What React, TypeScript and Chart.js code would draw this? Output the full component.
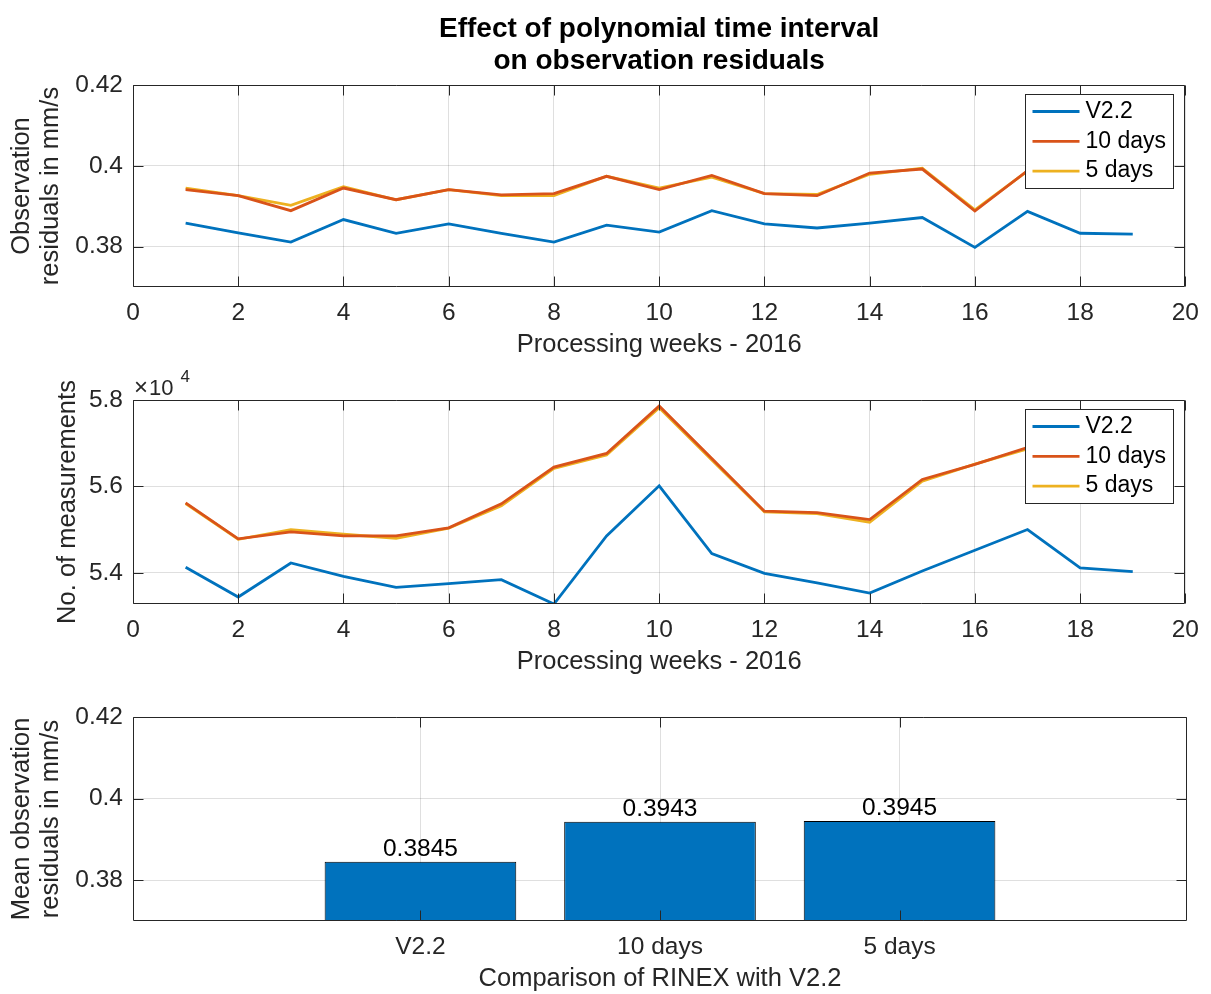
import React, { useEffect, useRef } from 'react';
import { Chart, registerables } from 'chart.js';

Chart.register(...registerables);

// ---------------- data ----------------
const seriesNames = ['V2.2', '10 days', '5 days'];
const weeks = [1, 2, 3, 4, 5, 6, 7, 8, 9, 10, 11, 12, 13, 14, 15, 16, 17, 18, 19];

const residualV22 = [0.3858, 0.3834, 0.3811, 0.3867, 0.3833, 0.3856, 0.3833, 0.3811, 0.3853, 0.3836, 0.3889, 0.3856, 0.3846, 0.3858, 0.3872, 0.3798, 0.3887, 0.3833, 0.3831];
const residual10Days = [0.3941, 0.3926, 0.3889, 0.3945, 0.3916, 0.3941, 0.3928, 0.3931, 0.3974, 0.3941, 0.3976, 0.3931, 0.3926, 0.3982, 0.3992, 0.3888, 0.3988, 0.3966, 0.3963];
const residual5Days = [0.3945, 0.3926, 0.3902, 0.3948, 0.3916, 0.3941, 0.3926, 0.3926, 0.3974, 0.3945, 0.3972, 0.3931, 0.3929, 0.3979, 0.3994, 0.3891, 0.3987, 0.3964, 0.3960];

const countV22 = [54131, 53445, 54232, 53923, 53668, 53753, 53846, 53283, 54857, 56015, 54448, 53993, 53769, 53537, 54047, 54525, 55004, 54116, 54031];
const count10Days = [55622, 54788, 54950, 54857, 54857, 55043, 55599, 56448, 56764, 57861, 56648, 55429, 55398, 55236, 56162, 56510, 56903, 56320, 56250];
const count5Days = [55606, 54780, 55004, 54896, 54803, 55035, 55552, 56417, 56726, 57822, 56610, 55413, 55375, 55174, 56124, 56517, 56872, 56280, 56200];

const barCategories = ['V2.2', '10 days', '5 days'];
const meanResidual = [0.3845, 0.3943, 0.3945];

const weekTicks = [0, 2, 4, 6, 8, 10, 12, 14, 16, 18, 20];
const residualTicks = [0.38, 0.4, 0.42];
const countTicks = [54000, 56000, 58000];

// ---------------- style ----------------
const FONT = '"Liberation Sans", Arial, Helvetica, sans-serif';
const AXIS_COLOR = '#262626';
const GRID_COLOR = 'rgba(38,38,38,0.15)';
const SERIES_COLORS = ['#0072BD', '#D95319', '#EDB120'];
const TICK_SIZE = 24.5;
const LABEL_SIZE = 25.5;
const LEFT = 133;
const RIGHT_PAD = 24;
const X_AXIS_H = 73;
const LINE_W = 2.8;

Chart.defaults.font.family = FONT;

const framePlugin = {
  id: 'frame',
  afterDraw(chart: any) {
    const { ctx, chartArea: a, scales } = chart;
    const L = Math.round(a.left) + 0.5;
    const R = Math.round(a.right) - 0.5;
    const T = Math.round(a.top) + 0.5;
    const B = Math.round(a.bottom) - 0.5;
    const tl = 10;
    ctx.save();
    ctx.strokeStyle = AXIS_COLOR;
    ctx.lineWidth = 1;
    ctx.beginPath();
    scales.x.ticks.forEach((t: any) => {
      const px = Math.round(scales.x.getPixelForValue(t.value)) + 0.5;
      ctx.moveTo(px, B);
      ctx.lineTo(px, B - tl);
      ctx.moveTo(px, T);
      ctx.lineTo(px, T + tl);
    });
    scales.y.ticks.forEach((t: any) => {
      const py = Math.round(scales.y.getPixelForValue(t.value)) + 0.5;
      ctx.moveTo(L, py);
      ctx.lineTo(L + tl, py);
      ctx.moveTo(R, py);
      ctx.lineTo(R - tl, py);
    });
    ctx.rect(L, T, R - L, B - T);
    ctx.stroke();
    ctx.restore();
  },
};

const legendPlugin = {
  id: 'boxLegend',
  afterDraw(chart: any) {
    const { ctx, chartArea: a } = chart;
    const w = 148;
    const h = 94;
    const x = Math.round(a.right - 12 - w) + 0.5;
    const y = Math.round(a.top + 9) + 0.5;
    ctx.save();
    ctx.fillStyle = '#ffffff';
    ctx.fillRect(x, y, w, h);
    ctx.strokeStyle = AXIS_COLOR;
    ctx.lineWidth = 1;
    ctx.strokeRect(x, y, w, h);
    ctx.font = `23px ${FONT}`;
    ctx.textBaseline = 'middle';
    ctx.textAlign = 'left';
    chart.data.datasets.forEach((ds: any, i: number) => {
      const ry = y + 17 + i * 29.8;
      ctx.strokeStyle = ds.borderColor;
      ctx.lineWidth = LINE_W;
      ctx.beginPath();
      ctx.moveTo(x + 7, ry);
      ctx.lineTo(x + 54, ry);
      ctx.stroke();
      ctx.fillStyle = '#000000';
      ctx.fillText(ds.label, x + 60, ry);
    });
    ctx.restore();
  },
};

const titlePlugin = {
  id: 'figTitle',
  afterDraw(chart: any) {
    const { ctx, chartArea: a } = chart;
    const cx = (a.left + a.right) / 2;
    ctx.save();
    ctx.fillStyle = '#000000';
    ctx.font = `bold 28px ${FONT}`;
    ctx.textAlign = 'center';
    ctx.textBaseline = 'alphabetic';
    ctx.fillText('Effect of polynomial time interval', cx, 36.7);
    ctx.fillText('on observation residuals', cx, 69.3);
    ctx.restore();
  },
};

const exponentPlugin = {
  id: 'exponent',
  afterDraw(chart: any) {
    const { ctx, chartArea: a } = chart;
    ctx.save();
    ctx.fillStyle = AXIS_COLOR;
    ctx.textAlign = 'left';
    ctx.textBaseline = 'alphabetic';
    const base = a.top - 5;
    ctx.font = `24px ${FONT}`;
    ctx.fillText('\u00d7', a.left + 1, base);
    const wx = ctx.measureText('\u00d7').width;
    ctx.font = `22px ${FONT}`;
    ctx.fillText('10', a.left + 2 + wx, base);
    const w10 = ctx.measureText('10').width;
    ctx.font = `17px ${FONT}`;
    ctx.fillText('4', a.left + 2 + wx + w10 + 7, base - 13.5);
    ctx.restore();
  },
};

const barLabelPlugin = {
  id: 'barLabels',
  afterDatasetsDraw(chart: any) {
    const { ctx } = chart;
    const meta = chart.getDatasetMeta(0);
    ctx.save();
    ctx.fillStyle = '#000000';
    ctx.font = `${TICK_SIZE}px ${FONT}`;
    ctx.textAlign = 'center';
    ctx.textBaseline = 'alphabetic';
    meta.data.forEach((el: any, i: number) => {
      ctx.fillText(meanResidual[i].toFixed(4), el.x, el.y - 6);
    });
    ctx.restore();
  },
};

function xAxis(title: string, min: number, max: number, tickValues: number[], fmt: (v: number) => string) {
  return {
    type: 'linear',
    min,
    max,
    offset: false,
    afterBuildTicks: (s: any) => {
      s.ticks = tickValues.map((v) => ({ value: v }));
    },
    afterFit: (s: any) => {
      s.height = X_AXIS_H;
    },
    ticks: {
      autoSkip: false,
      maxRotation: 0,
      padding: 12,
      color: AXIS_COLOR,
      font: { size: TICK_SIZE },
      callback: (v: any) => fmt(Number(v)),
    },
    grid: { color: GRID_COLOR, drawTicks: false, offset: false },
    border: { display: false },
    title: {
      display: true,
      text: title,
      color: AXIS_COLOR,
      font: { size: LABEL_SIZE },
      padding: { top: 0, bottom: 0 },
    },
  };
}

function yAxis(title: string | string[], min: number, max: number, tickValues: number[], fmt: (v: number) => string, titlePad: number) {
  return {
    type: 'linear',
    min,
    max,
    afterBuildTicks: (s: any) => {
      s.ticks = tickValues.map((v) => ({ value: v }));
    },
    afterFit: (s: any) => {
      s.width = LEFT;
    },
    ticks: {
      padding: 10,
      color: AXIS_COLOR,
      font: { size: TICK_SIZE },
      callback: (v: any) => fmt(Number(v)),
    },
    grid: { color: GRID_COLOR, drawTicks: false },
    border: { display: false },
    title: {
      display: true,
      text: title,
      color: AXIS_COLOR,
      font: { size: LABEL_SIZE, lineHeight: 1.16 },
      padding: { top: titlePad, bottom: 0 },
    },
  };
}

function lineDatasets(values: number[][]) {
  return seriesNames.map((name, i) => ({
    label: name,
    data: weeks.map((w, j) => ({ x: w, y: values[i][j] })),
    borderColor: SERIES_COLORS[i],
    backgroundColor: SERIES_COLORS[i],
    borderWidth: LINE_W,
    pointRadius: 0,
    tension: 0,
    fill: false,
  }));
}

const basePlugins = { legend: { display: false }, tooltip: { enabled: false }, title: { display: false } };

export default function App() {
  const ref1 = useRef<HTMLCanvasElement>(null);
  const ref2 = useRef<HTMLCanvasElement>(null);
  const ref3 = useRef<HTMLCanvasElement>(null);

  useEffect(() => {
    const fmtWeek = (v: number) => String(v);
    const fmtRes = (v: number) => String(Math.round(v * 1000) / 1000);
    const fmtCount = (v: number) => (v / 1e4).toFixed(1);

    const c1 = new Chart(ref1.current as HTMLCanvasElement, {
      type: 'line',
      data: { datasets: lineDatasets([residualV22, residual10Days, residual5Days]) as any },
      options: {
        animation: false,
        responsive: false,
        layout: { padding: { left: 0, right: RIGHT_PAD, top: 85, bottom: 0 } },
        plugins: basePlugins as any,
        scales: {
          x: xAxis('Processing weeks - 2016', 0, 20, weekTicks, fmtWeek) as any,
          y: yAxis(['Observation', 'residuals in mm/s'], 0.37, 0.42, residualTicks, fmtRes, 7) as any,
        },
      },
      plugins: [framePlugin, legendPlugin, titlePlugin],
    });

    const c2 = new Chart(ref2.current as HTMLCanvasElement, {
      type: 'line',
      data: { datasets: lineDatasets([countV22, count10Days, count5Days]) as any },
      options: {
        animation: false,
        responsive: false,
        layout: { padding: { left: 0, right: RIGHT_PAD, top: 40, bottom: 0 } },
        plugins: basePlugins as any,
        scales: {
          x: xAxis('Processing weeks - 2016', 0, 20, weekTicks, fmtWeek) as any,
          y: yAxis('No. of measurements', 53283, 58000, countTicks, fmtCount, 53) as any,
        },
      },
      plugins: [framePlugin, legendPlugin, exponentPlugin],
    });

    const positions = barCategories.map((_, i) => i + 1);
    const c3 = new Chart(ref3.current as HTMLCanvasElement, {
      type: 'bar',
      data: {
        datasets: [
          {
            label: 'Mean',
            data: positions.map((x, i) => ({ x, y: meanResidual[i] })),
            backgroundColor: '#0072BD',
            borderColor: '#000000',
            borderWidth: 1,
            borderSkipped: false,
            categoryPercentage: 1,
            barPercentage: 0.8,
          } as any,
        ],
      },
      options: {
        animation: false,
        responsive: false,
        layout: { padding: { left: 0, right: RIGHT_PAD, top: 40, bottom: 0 } },
        plugins: basePlugins as any,
        scales: {
          x: xAxis('Comparison of RINEX with V2.2', -0.2, 4.2, positions, (v) => barCategories[positions.indexOf(v)] ?? '') as any,
          y: yAxis(['Mean observation', 'residuals in mm/s'], 0.37, 0.42, residualTicks, fmtRes, 7) as any,
        },
      },
      plugins: [framePlugin, barLabelPlugin],
    });

    return () => {
      c1.destroy();
      c2.destroy();
      c3.destroy();
    };
  }, []);

  const canvasStyle = (top: number): React.CSSProperties => ({ position: 'absolute', left: 0, top });

  return (
    <div style={{ position: 'absolute', left: 0, top: 0, width: 1211, height: 994, overflow: 'hidden', background: '#ffffff' }}>
      <canvas ref={ref1} width={1211} height={360} style={canvasStyle(0)} />
      <canvas ref={ref2} width={1211} height={317} style={canvasStyle(360)} />
      <canvas ref={ref3} width={1211} height={317} style={canvasStyle(677)} />
    </div>
  );
}
